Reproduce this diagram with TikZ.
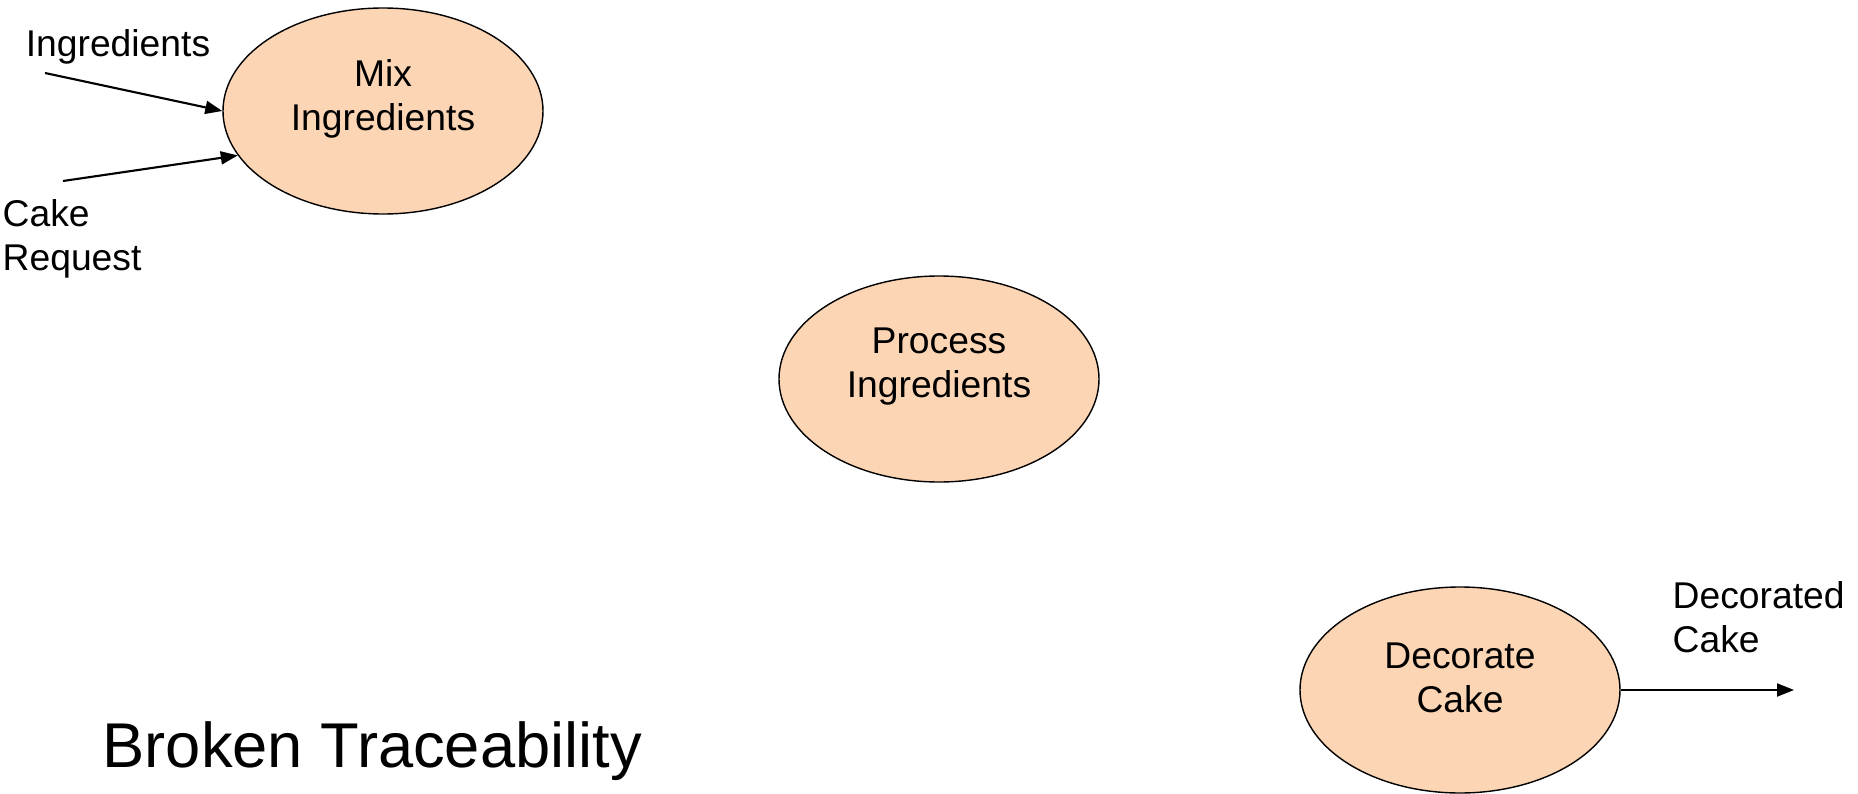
\documentclass[tikz,border=0pt]{standalone}
\usepackage{fontspec}
\setmainfont{Liberation Sans}
\usetikzlibrary{shapes.geometric,arrows.meta}
\definecolor{peach}{HTML}{FCD5B4}
\tikzset{
	proctext/.style = {align=center, inner sep=0pt, font=\fontsize{10.6}{12.5}\selectfont},
	process/.style = {ellipse, draw=black, line width=0.4pt, fill=peach, inner sep=0pt,
		minimum width=3.2cm, minimum height=2.06cm},
	proclabel/.style = {proctext, yshift=1.25mm},
	flowlabel/.style = {proctext, align=left},
	flow/.style = {line width=0.6pt, -{Triangle[length=1.7mm, width=1.3mm]}},
	pagetitle/.style = {inner sep=0pt, font=\fontsize{18}{21.6}\selectfont}
}

\begin{document}
\begin{tikzpicture}
		\useasboundingbox (0,0) rectangle (18.58,7.93);
		% processes
		\node [process, label={[proclabel]center:Mix\\Ingredients}] (mix) at (3.83,6.82) {};
		\node [process, label={[proclabel]center:Process\\Ingredients}] (proc) at (9.39,4.14) {};
		\node [process, label={[proclabel]center:Decorate\\Cake}] (deco) at (14.60,1.03) {};
		% data flows
		\node [flowlabel] (ingr) at (1.18,7.46) {Ingredients};
		\node [flowlabel, anchor=west] (req) at (0.02,5.54) {Cake\\Request};
		\node [flowlabel, anchor=west] (cake) at (16.72,1.76) {Decorated\\Cake};
		\coordinate (ingrsrc) at (0.45,7.20);
		\coordinate (reqsrc) at (0.63,6.12);
		\coordinate (cakedst) at (17.94,1.03);
		\draw [flow] (ingrsrc) -- (mix.west);
		\draw [flow] (reqsrc) -- (mix.197);
		\draw [flow] (deco.east) -- (cakedst);
		\node [pagetitle, anchor=west] (ttl) at (1.02,0.42) {Broken Traceability};
\end{tikzpicture}
\end{document}
